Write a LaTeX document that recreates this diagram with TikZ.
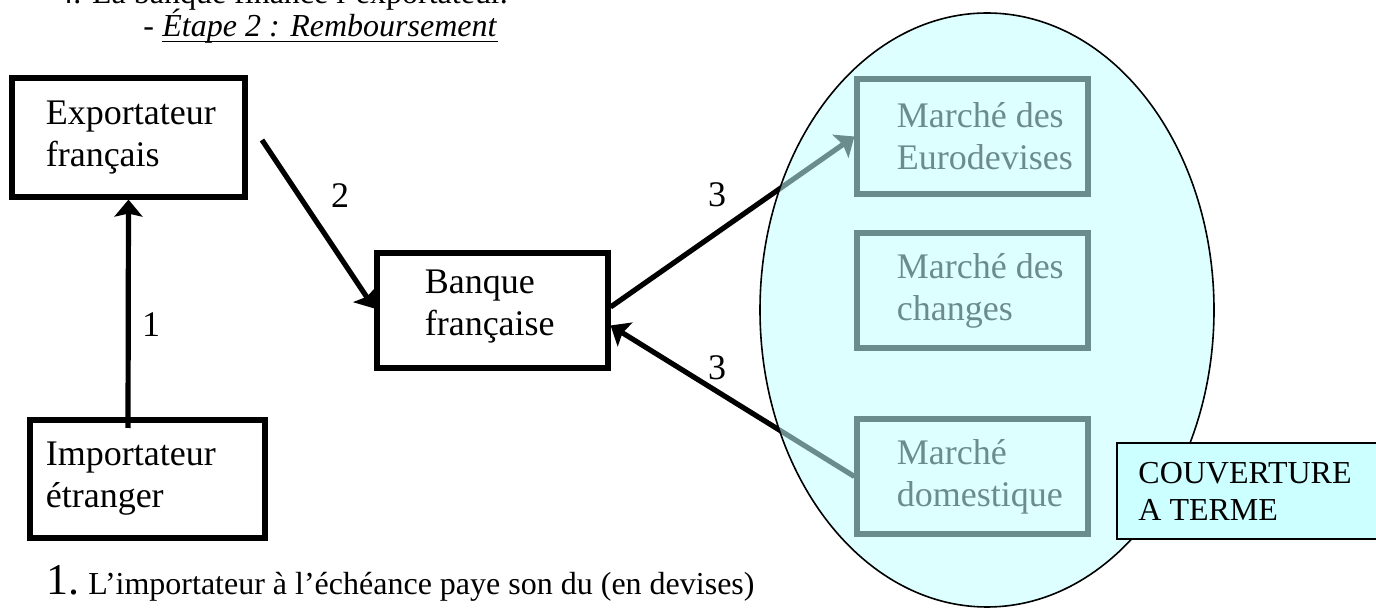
\documentclass[tikz,border=0pt]{standalone}
\usepackage{fontspec}
\setmainfont{Liberation Serif}
\usetikzlibrary{arrows.meta}
\definecolor{haze}{RGB}{195,255,255}
\definecolor{notefill}{RGB}{204,255,255}
\tikzset{
  actor/.style={draw, line width=2.6pt, rectangle, inner sep=0pt},
  actortext/.style={anchor=west, inner sep=0pt, align=left,
    font=\fontsize{18}{21}\selectfont},
  flow/.style={line width=2.6pt, -{Stealth[length=8.5pt,width=14pt,inset=1.5pt]}},
  steplabel/.style={font=\fontsize{18}{21}\selectfont, inner sep=0pt},
  plain/.style={inner sep=0pt, anchor=base west},
  body/.style={font=\fontsize{16}{19}\selectfont},
}
\begin{document}
\begin{tikzpicture}[x=0.5pt,y=-0.5pt]
\useasboundingbox (0,0) rectangle (1376,608);
\clip (0,0) rectangle (1376,608);

% heading lines
\node[plain, body] (intro) at (57,4) {4. La banque finance l’exportateur.};
\node[plain, body] (dash) at (143,37) {-};
\node[plain, body] (stage) at (162,37) {\textit{Étape 2 : Remboursement}};
\draw[line width=0.75pt] ([yshift=-2.2pt]stage.base west) -- ([yshift=-2.2pt]stage.base east);

% parties
\node[actor, minimum width=116.5pt, minimum height=59.5pt] (exp) at (128.5,137.5) {};
\node[actortext] (exp-t) at ([xshift=18pt]exp.west) {Exportateur\\français};
\node[actor, minimum width=117.5pt, minimum height=59pt] (imp) at (147.5,479) {};
\node[actortext] (imp-t) at ([xshift=9pt]imp.west) {Importateur\\étranger};
\node[actor, minimum width=115.5pt, minimum height=57.5pt] (ban) at (492.5,310.5) {};
\node[actortext] (ban-t) at ([xshift=25pt,yshift=2pt]ban.west) {Banque\\française};

% markets
\node[actor, minimum width=115.5pt, minimum height=57.5pt] (eur) at (972.5,136.5) {};
\node[actortext] (eur-t) at ([xshift=21pt]eur.west) {Marché des\\Eurodevises};
\node[actor, minimum width=115.5pt, minimum height=57.5pt] (chg) at (972.5,290.5) {};
\node[actortext] (chg-t) at ([xshift=21pt]chg.west) {Marché des\\changes};
\node[actor, minimum width=115.5pt, minimum height=57.5pt] (dom) at (972.5,476.5) {};
\node[actortext] (dom-t) at ([xshift=21pt]dom.west) {Marché\\domestique};

% flows
\coordinate (a1) at (128,428);
\coordinate (a2) at (262,140);
\draw[flow] (a1) -- (exp.south);
\draw[flow] (a2) -- ([yshift=1pt]ban.west);
\draw[flow] ([yshift=1.75pt]ban.east) -- (eur.west);
\draw[flow] (dom.west) -- ([yshift=-7.5pt]ban.east);

\node[steplabel] (n1) at (151,325) {1};
\node[steplabel] (n2) at (340,196) {2};
\node[steplabel] (n3a) at (717,195) {3};
\node[steplabel] (n3b) at (717,368) {3};

% translucent hedging zone over the markets
\fill[haze, fill opacity=0.55] (987,310) ellipse [x radius=113.5pt, y radius=148.5pt];
\draw[line width=0.8pt] (987,310) ellipse [x radius=113.5pt, y radius=148.5pt];

\node[draw, line width=1pt, fill=notefill, minimum width=136.5pt, minimum height=48pt,
  inner sep=0pt] (couv) at (1253.5,491) {};
\node[anchor=west, inner sep=0pt, align=left, font=\fontsize{16}{18.5}\selectfont]
  (couv-t) at ([xshift=11pt]couv.west) {COUVERTURE\\A TERME};

% footnote
\node[plain, font=\fontsize{22}{26}\selectfont] (num) at (46,595) {1.};
\node[plain, body] (note) at (88,595) {L’importateur à l’échéance paye son du (en devises)};
\end{tikzpicture}
\end{document}
